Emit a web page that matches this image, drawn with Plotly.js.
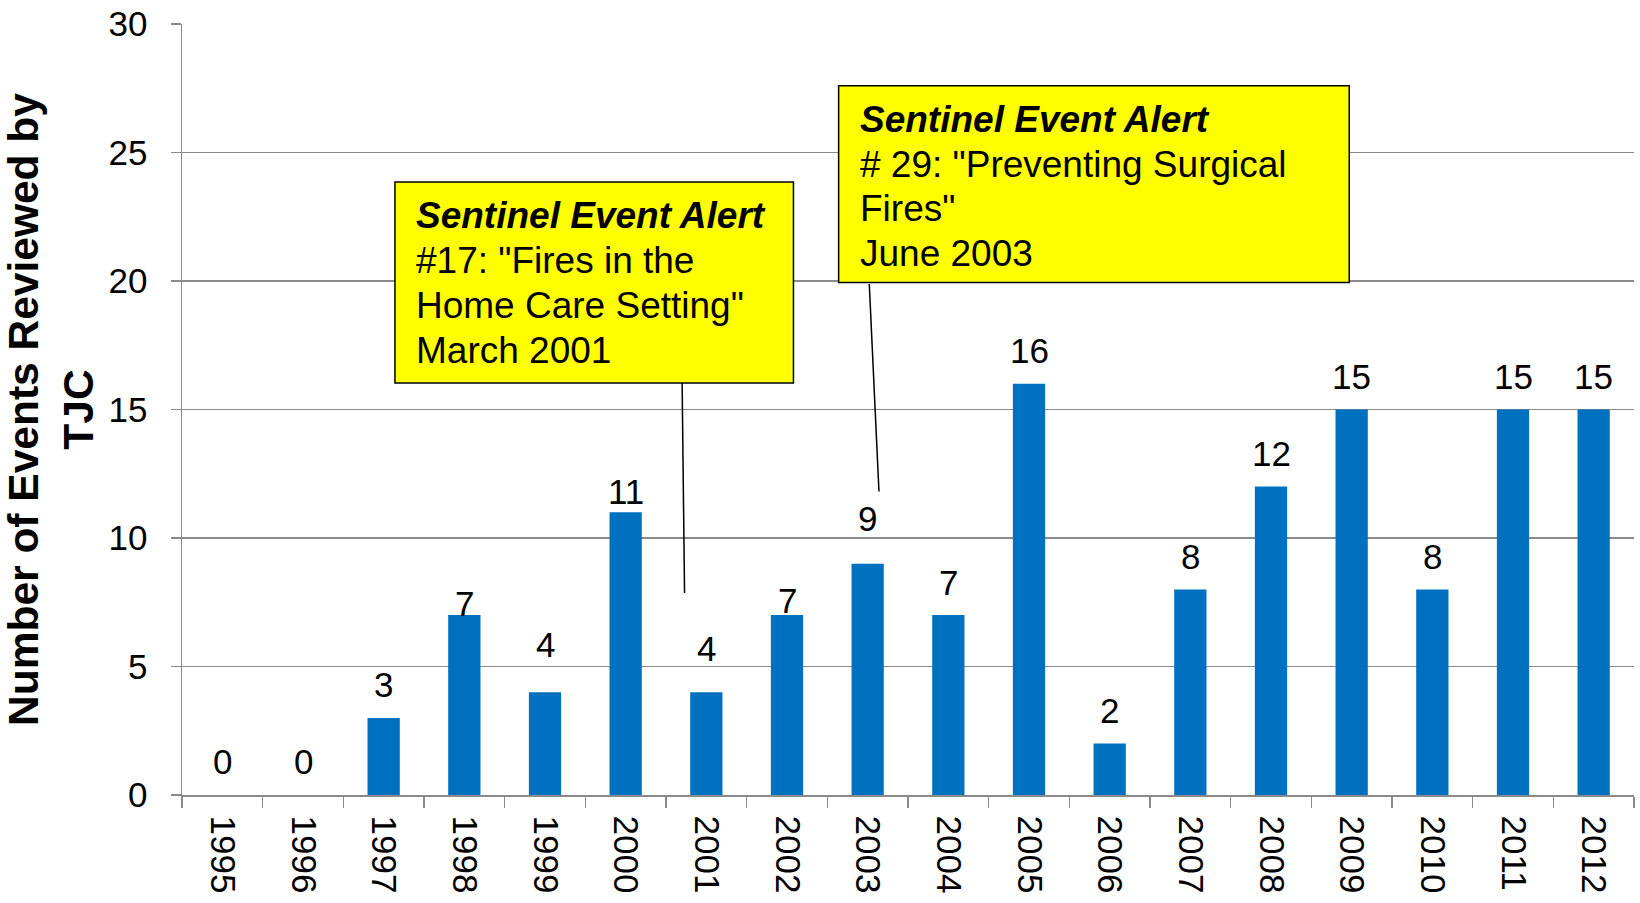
<!DOCTYPE html>
<html>
<head>
<meta charset="utf-8">
<script src="https://cdn.plot.ly/plotly-3.0.1.min.js"></script>
<style>
  html, body { margin: 0; padding: 0; background: #ffffff; }
  #chart { width: 1640px; height: 903px; }
</style>
</head>
<body>
<div id="chart"></div>
<script>
// ---- data ----
var years = ["1995","1996","1997","1998","1999","2000","2001","2002","2003","2004","2005","2006","2007","2008","2009","2010","2011","2012"];
var events = [0, 0, 3, 7, 4, 11, 4, 7, 9, 7, 16, 2, 8, 12, 15, 8, 15, 15];
var yTitle = "Number of Events Reviewed by<br>TJC";
var alert1Lines = ["<b><i>Sentinel Event Alert</i></b>", "#17: \"Fires in the", "Home Care Setting\"", "March 2001"];
var alert2Lines = ["<b><i>Sentinel Event Alert</i></b>", "# 29: \"Preventing Surgical", "Fires\"", "June 2003"];

// ---- styling / layout helpers ----
var FONT = "Liberation Sans, Arial, Helvetica, sans-serif";
var gridCol = "#8a8a8a";
// pixel gap between each value label's baseline and its bar top (as placed in the original)
var labelGapPx = [20, 20, 20, -1, 34.5, 8, 31, 2, 32, 20, 20, 20, 20, 20, 20, 20, 20, 20];

var trace = {
  type: "bar",
  x: years,
  y: events,
  marker: { color: "#0070C0", line: { width: 0 } },
  hoverinfo: "x+y"
};

// value labels (x given as category index so the category axis places them)
var labelAnns = years.map(function (yr, i) {
  return {
    xref: "x", yref: "y", x: i, y: events[i],
    xanchor: "center", yanchor: "bottom",
    yshift: labelGapPx[i] - 8.4,
    text: String(events[i]), showarrow: false,
    font: { family: FONT, size: 35, color: "#000000" }
  };
});

// callout boxes (category-index x, value y)
function textLines(lines, x0, yTop) {
  var out = [];
  var step = 44.7 / 25.7; // line spacing in data units
  for (var i = 0; i < lines.length; i++) {
    out.push({
      xref: "x", yref: "y",
      x: x0, y: yTop - i * step,
      xanchor: "left", yanchor: "middle",
      text: lines[i], showarrow: false, align: "left",
      font: { family: FONT, size: 37, color: "#000000" }
    });
  }
  return out;
}

var annotations = [].concat(
  labelAnns,
  textLines(alert1Lines, 2.375, 22.53),
  textLines(alert2Lines, 7.875, 26.29)
);

var shapes = [
  { type: "rect", xref: "x", yref: "y", x0: 2.14, x1: 7.08, y0: 16.03, y1: 23.85,
    fillcolor: "#FFFF00", line: { color: "#000000", width: 1.5 }, layer: "above" },
  { type: "rect", xref: "x", yref: "y", x0: 7.64, x1: 13.97, y0: 19.94, y1: 27.6,
    fillcolor: "#FFFF00", line: { color: "#000000", width: 1.5 }, layer: "above" },
  { type: "line", xref: "x", yref: "y", x0: 5.70, y0: 16.03, x1: 5.73, y1: 7.86,
    line: { color: "#000000", width: 1.5 }, layer: "above" },
  { type: "line", xref: "x", yref: "y", x0: 8.02, y0: 19.88, x1: 8.14, y1: 11.81,
    line: { color: "#000000", width: 1.5 }, layer: "above" }
];

var layout = {
  width: 1640, height: 903,
  margin: { l: 182, r: 6, t: 24, b: 108, pad: 0 },
  paper_bgcolor: "#ffffff", plot_bgcolor: "#ffffff",
  font: { family: FONT, color: "#000000" },
  showlegend: false,
  bargap: 0.6,
  xaxis: {
    type: "category",
    range: [-0.5, years.length - 0.5],
    autorange: false,
    showgrid: false,
    showline: true, linecolor: gridCol, linewidth: 1.5,
    ticks: "outside", ticklen: 11, tickwidth: 1.5, tickcolor: gridCol,
    tickson: "boundaries",
    tickangle: 90,
    ticklabelstandoff: 12,
    tickfont: { family: FONT, size: 35, color: "#000000" },
    automargin: false,
    fixedrange: true
  },
  yaxis: {
    range: [0, 30], autorange: false, dtick: 5, tick0: 0,
    showgrid: true, gridcolor: gridCol, gridwidth: 1.5,
    zeroline: false,
    showline: true, linecolor: gridCol, linewidth: 1.5,
    ticks: "outside", ticklen: 10, tickwidth: 1.5, tickcolor: gridCol,
    ticklabelstandoff: 16,
    tickfont: { family: FONT, size: 35, color: "#000000" },
    title: { text: "<b>" + yTitle + "</b>", font: { family: FONT, size: 42.5, color: "#000000" }, standoff: 14 },
    automargin: false,
    fixedrange: true
  },
  shapes: shapes,
  annotations: annotations
};

Plotly.newPlot("chart", [trace], layout, { displayModeBar: false, staticPlot: true });
</script>
</body>
</html>
